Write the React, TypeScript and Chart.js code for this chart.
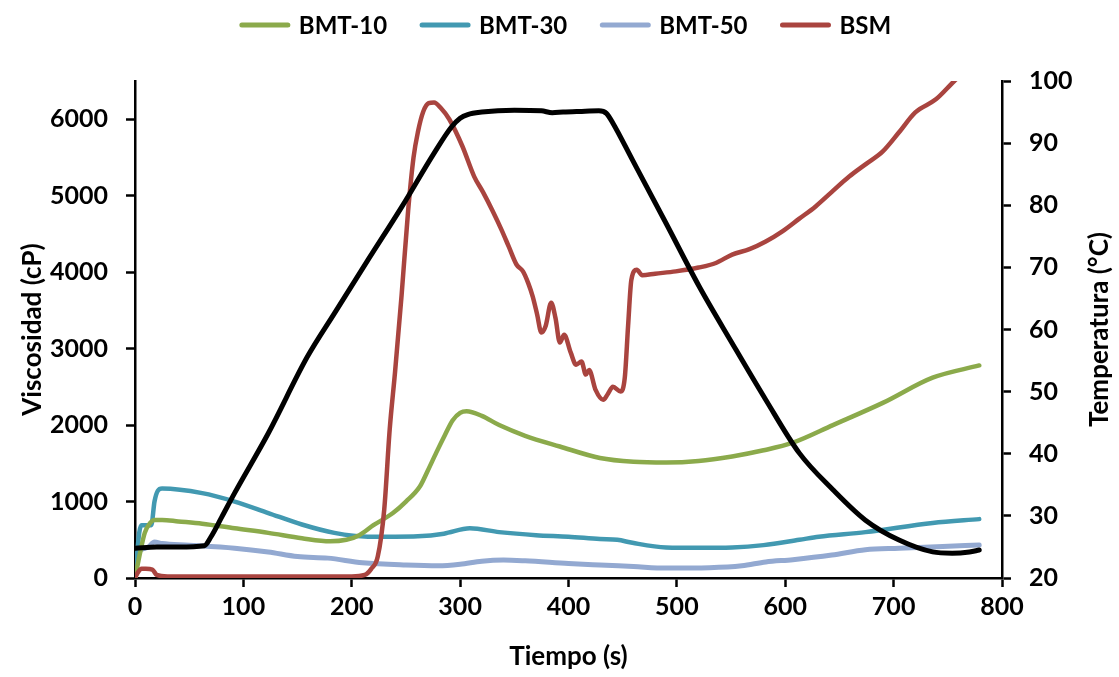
import React, { useEffect, useRef } from "react";
import { Chart, registerables } from "chart.js";

Chart.register(...registerables);

const FONT = "Lato, 'Open Sans', 'Liberation Sans', sans-serif";

// ---- Data ----
const seriesNames = ["BMT-10", "BMT-30", "BMT-50", "BSM"];
const seriesColors = ["#8BAA4B", "#4299B1", "#93A9D1", "#A9443F"];
const tempColor = "#000000";

const bmt10Time = [0, 5, 9, 14, 18, 25, 40, 62, 92, 123, 154, 180, 195, 207, 220, 238, 250, 263, 270, 278, 286, 293, 300, 306, 320, 336, 360, 392, 429, 460, 490, 520, 551, 580, 607, 644, 690, 736, 779];
const bmt10Visc = [0, 350, 590, 720, 760, 760, 740, 710, 650, 590, 520, 480, 500, 560, 690, 850, 1000, 1200, 1400, 1640, 1870, 2060, 2160, 2180, 2120, 2000, 1860, 1720, 1570, 1520, 1510, 1530, 1590, 1670, 1770, 2000, 2290, 2620, 2780];

const bmt30Time = [0, 4, 6, 15, 18, 21, 25, 62, 92, 123, 154, 184, 215, 240, 261, 285, 309, 336, 370, 400, 429, 445, 459, 490, 520, 551, 580, 613, 631, 674, 736, 779];
const bmt30Visc = [0, 600, 690, 690, 1000, 1140, 1170, 1110, 1000, 850, 700, 590, 540, 540, 545, 580, 650, 600, 560, 540, 510, 500, 460, 400, 395, 400, 430, 500, 540, 600, 720, 770];

const bmt50Time = [0, 3, 6, 12, 18, 25, 50, 92, 123, 150, 178, 210, 250, 280, 300, 320, 340, 360, 400, 429, 460, 490, 530, 560, 582, 607, 643, 674, 705, 740, 779];
const bmt50Visc = [0, 300, 370, 400, 470, 450, 430, 390, 340, 280, 260, 200, 170, 160, 180, 220, 235, 225, 190, 170, 150, 130, 135, 160, 210, 240, 300, 370, 390, 410, 430];

const bsmTime = [0, 3, 6, 10, 16, 20, 30, 100, 200, 212, 218, 224, 230, 235, 240, 246, 252, 257, 261, 266, 271, 276, 282, 290, 302, 313, 321, 330, 338, 345, 352, 358, 363, 367, 371, 375, 379, 384, 388, 392, 396, 402, 407, 412, 416, 419, 425, 432, 436, 441, 448, 452, 455, 458, 463, 468, 480, 499, 520, 536, 551, 567, 582, 597, 613, 628, 643, 659, 675, 690, 705, 720, 739, 756, 770, 780];
const bsmVisc = [0, 80, 120, 120, 110, 40, 20, 20, 20, 40, 120, 280, 900, 1940, 2700, 3700, 4800, 5500, 5830, 6100, 6210, 6220, 6150, 6000, 5650, 5250, 5050, 4800, 4560, 4330, 4100, 4010, 3850, 3680, 3450, 3210, 3300, 3600, 3400, 3080, 3180, 2950, 2790, 2830, 2660, 2720, 2460, 2330, 2400, 2500, 2440, 2630, 3300, 3900, 4030, 3960, 3980, 4010, 4060, 4120, 4230, 4300, 4400, 4530, 4700, 4860, 5050, 5250, 5420, 5580, 5830, 6090, 6260, 6500, 6680, 6800];

const tempTime = [0, 20, 40, 64, 70, 80, 92, 123, 159, 184, 215, 246, 276, 292, 300, 307, 320, 350, 375, 385, 395, 410, 428, 435, 441, 459, 490, 521, 551, 582, 613, 644, 674, 705, 736, 754, 770, 779];
const tempValues = [24.8, 25, 25, 25.2, 26.6, 29.8, 33.7, 43.3, 55.6, 62.6, 71.2, 79.7, 88.4, 92.6, 94, 94.6, 95, 95.3, 95.2, 94.9, 95, 95.1, 95.2, 94.8, 93.2, 87.3, 77.1, 66.8, 57.8, 48.7, 40.1, 34.2, 29.3, 26.1, 24.2, 24, 24.2, 24.5];

const xAxisRange = [0, 800];
const viscAxisRange = [0, 6500];
const tempAxisRange = [20, 100];
const xTickValues = [0, 100, 200, 300, 400, 500, 600, 700, 800];
const viscTickValues = [0, 1000, 2000, 3000, 4000, 5000, 6000];
const tempTickValues = [20, 30, 40, 50, 60, 70, 80, 90, 100];

const xTitle = "Tiempo (s)";
const viscTitle = "Viscosidad (cP)";
const tempTitle = "Temperatura (°C)";

function pts(t: number[], v: number[]) {
  return t.map((x, i) => ({ x, y: v[i] }));
}

const overlayPlugin = {
  id: "overlay",
  afterDraw(chart: any) {
    const ctx = chart.ctx as CanvasRenderingContext2D;
    ctx.save();
    // legend
    ctx.font = `bold 24px ${FONT}`;
    const lineLen = 52;
    const gapLT = 8;
    const gapItems = 32;
    const widths = seriesNames.map((n) => ctx.measureText(n).width);
    const total = widths.reduce((a, w) => a + lineLen + gapLT + w, 0) + gapItems * (seriesNames.length - 1);
    let x = 565 - total / 2;
    const y = 25;
    ctx.textBaseline = "middle";
    ctx.textAlign = "left";
    seriesNames.forEach((n, i) => {
      ctx.strokeStyle = seriesColors[i];
      ctx.lineWidth = 5;
      ctx.lineCap = "round";
      ctx.beginPath();
      ctx.moveTo(x + 3, y);
      ctx.lineTo(x + lineLen - 3, y);
      ctx.stroke();
      ctx.fillStyle = "#000";
      ctx.fillText(n, x + lineLen + gapLT, y + 1);
      x += lineLen + gapLT + widths[i] + gapItems;
    });
    // right axis title (reads bottom to top)
    const area = chart.chartArea;
    ctx.font = `bold 26px ${FONT}`;
    ctx.textAlign = "center";
    ctx.translate(1100, (area.top + area.bottom) / 2);
    ctx.rotate(-Math.PI / 2);
    ctx.fillText(tempTitle, 0, 0);
    ctx.restore();
  },
};

export default function App() {
  const ref = useRef<HTMLCanvasElement | null>(null);

  useEffect(() => {
    document.body.style.margin = "0";
    const canvas = ref.current;
    if (!canvas) return;
    const tickFont = { family: FONT, size: 25, weight: "bold" as const };
    const titleFont = { family: FONT, size: 26, weight: "bold" as const };
    const grid = {
      drawOnChartArea: false,
      drawTicks: true,
      tickLength: 9,
      tickWidth: 2.5,
      tickColor: "#000",
    };
    const border = { display: true, color: "#000", width: 2.5 };
    const setTicks = (vals: number[]) => (s: any) => {
      s.ticks = vals.map((v) => ({ value: v }));
    };
    const chart = new Chart(canvas, {
      type: "line",
      data: {
        datasets: [
          {
            label: "Temperatura",
            data: pts(tempTime, tempValues),
            borderColor: tempColor,
            borderWidth: 5,
            yAxisID: "yT",
            order: 0,
          },
          {
            label: seriesNames[3],
            data: pts(bsmTime, bsmVisc),
            borderColor: seriesColors[3],
            borderWidth: 4.5,
            yAxisID: "y",
            order: 1,
          },
          {
            label: seriesNames[0],
            data: pts(bmt10Time, bmt10Visc),
            borderColor: seriesColors[0],
            borderWidth: 4.5,
            yAxisID: "y",
            order: 2,
          },
          {
            label: seriesNames[1],
            data: pts(bmt30Time, bmt30Visc),
            borderColor: seriesColors[1],
            borderWidth: 4.5,
            yAxisID: "y",
            order: 3,
          },
          {
            label: seriesNames[2],
            data: pts(bmt50Time, bmt50Visc),
            borderColor: seriesColors[2],
            borderWidth: 5,
            yAxisID: "y",
            order: 4,
          },
        ],
      },
      options: {
        responsive: false,
        animation: false,
        elements: {
          point: { radius: 0, hoverRadius: 0 },
          line: { tension: 0.4, cubicInterpolationMode: "monotone", borderCapStyle: "round", borderJoinStyle: "round" },
        },
        layout: { padding: { top: 81, left: 0, right: 0, bottom: 0 } },
        plugins: {
          legend: { display: false },
          tooltip: { enabled: false },
          title: { display: false },
        },
        scales: {
          x: {
            type: "linear",
            min: xAxisRange[0],
            max: xAxisRange[1],
            afterBuildTicks: setTicks(xTickValues),
            ticks: { color: "#000", font: tickFont, padding: 5, maxRotation: 0, autoSkip: false },
            grid,
            border,
            title: { display: true, text: xTitle, color: "#000", font: titleFont, padding: { top: 0, bottom: 5 } },
            afterFit: (s: any) => {
              s.height = 99;
            },
          },
          y: {
            type: "linear",
            position: "left",
            min: viscAxisRange[0],
            max: viscAxisRange[1],
            afterBuildTicks: setTicks(viscTickValues),
            ticks: { color: "#000", font: tickFont, padding: 18, autoSkip: false, callback: (v: any) => String(v) },
            grid,
            border,
            title: { display: true, text: viscTitle, color: "#000", font: titleFont, padding: { top: 17, bottom: 0 } },
            afterFit: (s: any) => {
              s.width = 135;
            },
          },
          yT: {
            type: "linear",
            position: "right",
            min: tempAxisRange[0],
            max: tempAxisRange[1],
            afterBuildTicks: setTicks(tempTickValues),
            ticks: { color: "#000", font: tickFont, padding: 18, autoSkip: false, callback: (v: any) => String(v) },
            grid,
            border,
            afterFit: (s: any) => {
              s.width = 1119 - 1002;
            },
          },
        },
      },
      plugins: [overlayPlugin],
    });
    return () => chart.destroy();
  }, []);

  return (
    <div style={{ position: "fixed", left: 0, top: 0, width: 1119, height: 677, background: "#fff" }}>
      <canvas ref={ref} width={1119} height={677} />
    </div>
  );
}
